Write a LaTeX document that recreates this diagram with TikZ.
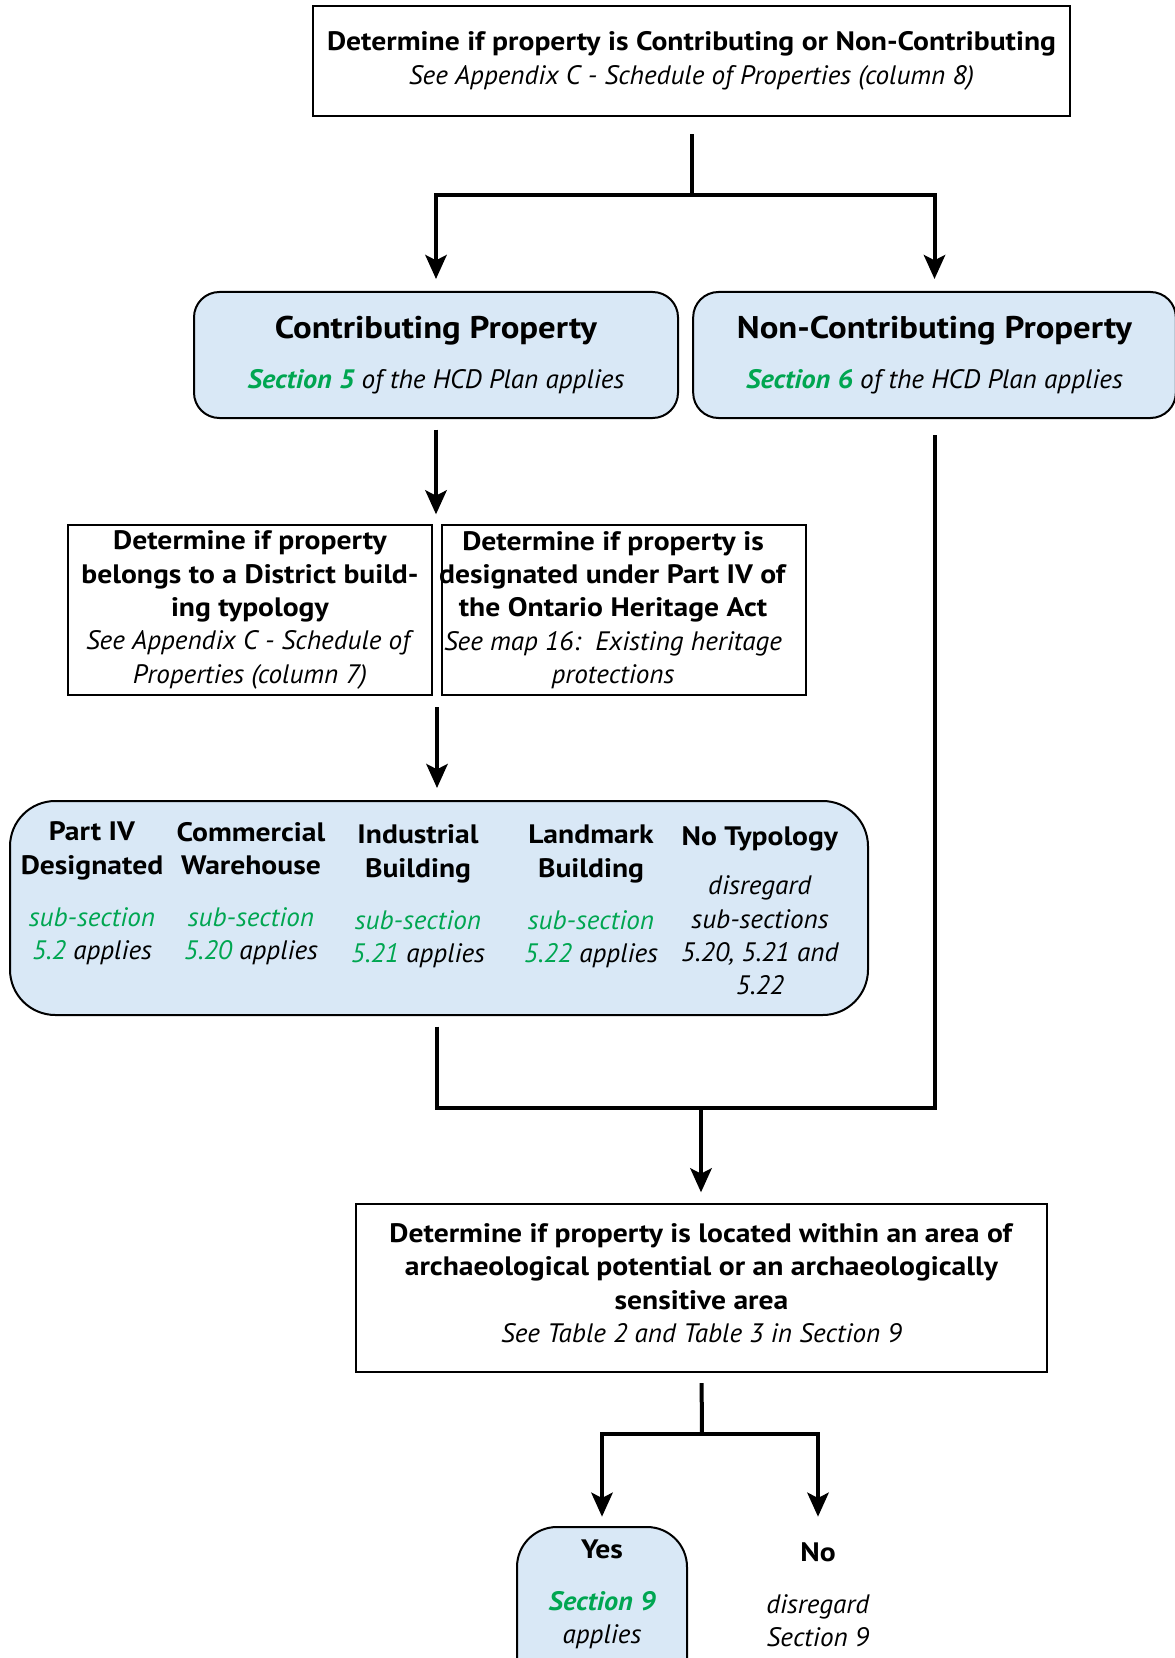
\documentclass[tikz,border=0pt]{standalone}
\usepackage{fontspec}
\setmainfont{PT Sans}[BoldFeatures={FakeStretch=1.11},
  ItalicFeatures={FakeStretch=1.02}, BoldItalicFeatures={FakeStretch=1.06}]
\usetikzlibrary{arrows.meta}
\definecolor{hcdblue}{RGB}{217,232,246}
\definecolor{hcdgreen}{RGB}{0,166,81}
\newcommand{\grn}[1]{\textcolor{hcdgreen}{#1}}
\tikzset{
  plainbox/.style={draw, line width=1.5pt, inner sep=0pt, align=center,
    font=\fontsize{20}{25}\selectfont},
  bluebox/.style={plainbox, fill=hcdblue, rounded corners=19pt},
  txt/.style={align=center, inner sep=0pt, font=\fontsize{20}{25}\selectfont},
  flow/.style={line width=3pt},
  flowarrow/.style={flow, -{Stealth[length=18pt,width=16pt,inset=4pt]}},
}

\begin{document}
\begin{tikzpicture}[x=0.75pt,y=-0.75pt]
\useasboundingbox (0,0) rectangle (1174,1658);
% boxes
\node[plainbox, minimum width=568pt, minimum height=82.5pt] (top) at (691.5,61)
  {\textbf{Determine if property is Contributing or Non-Contributing}\\
   \textit{See Appendix C - Schedule of Properties (column 8)}};
\node[bluebox, minimum width=363pt, minimum height=94.5pt] (contrib) at (436,355)
  {{\fontsize{23.5}{28}\selectfont\bfseries Contributing Property}\\[12pt]
   \textit{\grn{\textbf{Section 5}} of the HCD Plan applies}};
\node[bluebox, minimum width=362pt, minimum height=94.5pt] (noncontrib) at (934.5,355)
  {{\fontsize{23.5}{28}\selectfont\bfseries Non-Contributing Property}\\[12pt]
   \textit{\grn{\textbf{Section 6}} of the HCD Plan applies}};
\node[plainbox, minimum width=273pt, minimum height=127.5pt] (typology) at (250,610)
  {\textbf{Determine if property}\\ \textbf{belongs to a District build-}\\
   \textbf{ing typology}\\ \textit{See Appendix C - Schedule of}\\
   \textit{Properties (column 7)}};
\node[plainbox, minimum width=273pt, minimum height=127.5pt] (partiv) at (624,610) {};
\node[txt] (partivtext) at (613,610)
  {\textbf{Determine if property is}\\ \textbf{designated under Part IV of}\\
   \textbf{the Ontario Heritage Act}\\ \textit{See map 16:\ \ Existing heritage}\\
   \textit{protections}};
\node[bluebox, rounded corners=34pt, minimum width=643.5pt, minimum height=160.5pt] (types) at (439,908) {};
\node[txt] (col1) at (92,893.5)
  {\textbf{Part IV}\\ \textbf{Designated}\\[14pt] \textit{\grn{sub-section}}\\ \textit{\grn{5.2} applies}};
\node[txt] (col2) at (251,893.5)
  {\textbf{Commercial}\\ \textbf{Warehouse}\\[14pt] \textit{\grn{sub-section}}\\ \textit{\grn{5.20} applies}};
\node[txt] (col3) at (418,896.5)
  {\textbf{Industrial}\\ \textbf{Building}\\[14pt] \textit{\grn{sub-section}}\\ \textit{\grn{5.21} applies}};
\node[txt] (col4) at (591,896.5)
  {\textbf{Landmark}\\ \textbf{Building}\\[14pt] \textit{\grn{sub-section}}\\ \textit{\grn{5.22} applies}};
\node[txt] (col5) at (760,911)
  {\textbf{No Typology}\\[12pt] \textit{disregard}\\ \textit{sub-sections}\\
   \textit{5.20, 5.21 and}\\ \textit{5.22}};
\node[plainbox, minimum width=518pt, minimum height=126pt] (arch) at (701.5,1288) {};
\node[txt] (archtext) at (701.5,1283)
  {\textbf{Determine if property is located within an area of}\\
   \textbf{archaeological potential or an archaeologically}\\
   \textbf{sensitive area}\\ \textit{See Table 2 and Table 3 in Section 9}};
\node[bluebox, rounded corners=30pt, minimum width=127.5pt, minimum height=135pt] (yesbox) at (602,1617) {};
\node[txt] (yes) at (602,1594.5)
  {\textbf{Yes}\\[14pt] \textit{\grn{\textbf{Section 9}}}\\ \textit{applies}};
\node[txt] (no) at (818,1594.5)
  {\textbf{No}\\[14pt] \textit{disregard}\\ \textit{Section 9}};
% connectors
\coordinate (fork1) at (692,195);
\coordinate (split) at (437,525);
\coordinate (join) at (437,695);
\coordinate (merge) at (701,1108);
\coordinate (fork2) at (702,1434);
\draw[flow, shorten <=13pt] (top.south) -- (top.south |- fork1);
\draw[flowarrow, shorten >=9pt] (fork1) -| (contrib.north);
\draw[flowarrow, shorten >=9pt] (fork1) -| (noncontrib.north);
\draw[flowarrow, shorten <=8pt, shorten >=8pt] (contrib.south) -- (contrib.south |- split);
\draw[flowarrow, shorten <=9pt, shorten >=9pt] (join) -- (join |- types.north);
\draw[flow, shorten <=8pt, shorten >=12pt] (join |- types.south) -- (join |- merge)
  -- (merge -| noncontrib.south) -- (noncontrib.south);
\draw[flowarrow, shorten >=8pt] (merge) -- (merge |- arch.north);
\draw[flow, shorten <=7.5pt] (arch.south) -- (fork2);
\draw[flowarrow, shorten >=7pt] (fork2) -| (yesbox.north);
\draw[flowarrow, shorten >=7pt] (fork2) -| (no.north |- yesbox.north);
\end{tikzpicture}
\end{document}
